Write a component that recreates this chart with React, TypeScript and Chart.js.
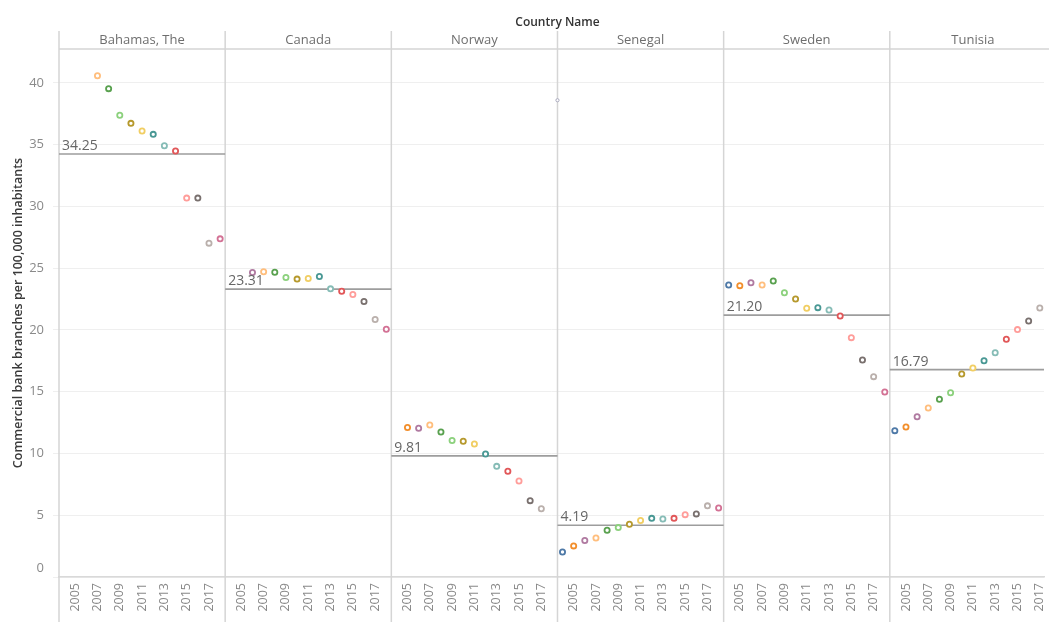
import React, { useEffect, useRef } from "react";
import { Chart, registerables } from "chart.js";

Chart.register(...registerables);

const years = [2004, 2005, 2006, 2007, 2008, 2009, 2010, 2011, 2012, 2013, 2014, 2015, 2016, 2017, 2018];
const countries = ["Bahamas, The", "Canada", "Norway", "Senegal", "Sweden", "Tunisia"];

const bahamasValues = [null, null, null, 40.59, 39.54, 37.38, 36.73, 36.11, 35.84, 34.92, 34.49, 30.68, 30.68, 27.03, 27.38];
const canadaValues = [null, null, 24.66, 24.71, 24.68, 24.25, 24.12, 24.17, 24.33, 23.33, 23.14, 22.87, 22.31, 20.85, 20.06];
const norwayValues = [null, 12.1, 12.04, 12.31, 11.74, 11.05, 10.99, 10.77, 9.96, 8.96, 8.56, 7.77, 6.18, 5.53, null];
const senegalValues = [2.03, 2.52, 2.95, 3.16, 3.78, 4.0, 4.27, 4.57, 4.75, 4.7, 4.75, 5.05, 5.11, 5.76, 5.59];
const swedenValues = [23.64, 23.59, 23.83, 23.64, 23.97, 23.02, 22.51, 21.76, 21.81, 21.62, 21.13, 19.38, 17.57, 16.22, 14.98];
const tunisiaValues = [11.85, 12.15, 12.98, 13.68, 14.39, 14.92, 16.44, 16.92, 17.51, 18.16, 19.25, 20.03, 20.73, 21.78, null];

const averageValues = [34.25, 23.31, 9.81, 4.19, 21.2, 16.79];
const averageLabels = ["34.25", "23.31", "9.81", "4.19", "21.20", "16.79"];

const yearTicks = [2005, 2007, 2009, 2011, 2013, 2015, 2017];
const valueTicks = [0, 5, 10, 15, 20, 25, 30, 35, 40];

const yearColors = [
  "#4E79A7", "#F28E2B", "#B07AA1", "#FFBE7D", "#59A14F", "#8CD17D", "#B6992D", "#F1CE63",
  "#499894", "#86BCB6", "#E15759", "#FF9D9A", "#79706E", "#BAB0AC", "#D37295",
];

// faint stray mark sitting on the Norway / Senegal border (Senegal panel)
const strayYears = [2003.55];
const strayValues = [38.6];

const seriesValues = [bahamasValues, canadaValues, norwayValues, senegalValues, swedenValues, tunisiaValues];

// each facet panel covers the year range [YEAR_START, YEAR_END] on one shared linear axis
const YEAR_START = 2003.55;
const YEAR_END = 2018.45;
const SPAN = YEAR_END - YEAR_START;
const toAxis = (panel: number, year: number) => panel * SPAN + (year - YEAR_START);
// the last (Tunisia) panel runs past the right edge of the view, as in the original
const VISIBLE_PANELS = 5.928;
const FONT = "'Open Sans', 'Noto Sans', sans-serif";

export default function App() {
  const canvasRef = useRef<HTMLCanvasElement | null>(null);

  useEffect(() => {
    const canvas = canvasRef.current;
    if (!canvas) return;

    const datasets: any[] = [];
    seriesValues.forEach((vals, i) => {
      const pts: any[] = [];
      const cols: string[] = [];
      vals.forEach((v, j) => {
        if (v !== null && v !== undefined) {
          pts.push({ x: toAxis(i, years[j]), y: v });
          cols.push(yearColors[j]);
        }
      });
      datasets.push({
        type: "scatter",
        data: pts,
        pointRadius: 2.6,
        pointBorderWidth: 1.8,
        pointBorderColor: cols,
        pointBackgroundColor: "#ffffff",
        pointHoverRadius: 2.6,
        order: 0,
      });
      datasets.push({
        type: "line",
        data: [
          { x: toAxis(i, YEAR_START), y: averageValues[i] },
          { x: toAxis(i, YEAR_END), y: averageValues[i] },
        ],
        borderColor: "#9d9d9d",
        borderWidth: 1.6,
        pointRadius: 0,
        order: 1,
      });
    });
    datasets.push({
      type: "scatter",
      data: strayYears.map((yr, k) => ({ x: toAxis(3, yr), y: strayValues[k] })),
      pointRadius: 1.6,
      pointBorderWidth: 1,
      pointBorderColor: "#a9a9bd",
      pointBackgroundColor: "#ffffff",
      clip: false,
      order: 0,
    });

    const xTickValues: number[] = [];
    const xTickLabels = new Map<number, string>();
    countries.forEach((_, i) => {
      yearTicks.forEach((yt) => {
        const v = toAxis(i, yt);
        xTickValues.push(v);
        xTickLabels.set(Math.round(v * 1000), String(yt));
      });
    });

    const scales: any = {
      y: {
        type: "linear",
        position: "left",
        min: 0,
        max: 42.75,
        afterBuildTicks: (s: any) => {
          s.ticks = valueTicks.map((v) => ({ value: v }));
        },
        afterFit: (s: any) => {
          s.width = 59;
          s.paddingTop = 0;
          s.paddingBottom = 0;
        },
        grid: { color: "#efefef", lineWidth: 1, drawTicks: true, tickLength: 6 },
        border: { display: false },
        ticks: {
          color: "#8a8a8a",
          font: { size: 13, family: FONT },
          padding: 9,
          // the bottom label is nudged up above the axis line, drawn by the plugin
          callback: (v: any) => (Number(v) === 0 ? "" : String(v)),
        },
      },
      x: {
        type: "linear",
        position: "bottom",
        min: 0,
        max: SPAN * VISIBLE_PANELS,
        afterBuildTicks: (s: any) => {
          s.ticks = xTickValues.map((v) => ({ value: v }));
        },
        afterFit: (s: any) => {
          s.height = 45;
          s.paddingLeft = 0;
          s.paddingRight = 0;
        },
        grid: { display: false, drawTicks: false },
        border: { display: true, color: "#d9d9d9", width: 1.5 },
        ticks: {
          autoSkip: false,
          minRotation: 90,
          maxRotation: 90,
          padding: 6,
          color: "#8a8a8a",
          font: { size: 12.5, family: FONT },
          callback: (v: any) => xTickLabels.get(Math.round(Number(v) * 1000)) ?? "",
        },
      },
    };

    const decorPlugin = {
      id: "decor",
      beforeDatasetsDraw(chart: any) {
        const ctx = chart.ctx;
        const area = chart.chartArea;
        const xs = chart.scales.x;
        const ys = chart.scales.y;
        ctx.save();
        ctx.strokeStyle = "#d5d5d5";
        ctx.lineWidth = 1.5;
        const edges: number[] = [];
        for (let k = 0; k <= countries.length; k++) edges.push(xs.getPixelForValue(k * SPAN));
        edges.forEach((x: number) => {
          ctx.beginPath();
          ctx.moveTo(x, 31);
          ctx.lineTo(x, chart.height);
          ctx.stroke();
        });
        ctx.beginPath();
        ctx.moveTo(edges[0], area.top);
        ctx.lineTo(edges[edges.length - 1], area.top);
        ctx.stroke();

        ctx.fillStyle = "#6e6e6e";
        ctx.font = `13px ${FONT}`;
        ctx.textAlign = "center";
        ctx.textBaseline = "middle";
        countries.forEach((name, i) => {
          ctx.fillText(name, (edges[i] + edges[i + 1]) / 2, 40.5);
        });

        // bottom value label, lifted above the axis line
        ctx.fillStyle = "#8a8a8a";
        ctx.textAlign = "right";
        ctx.fillText(String(valueTicks[0]), area.left - 15, ys.getPixelForValue(valueTicks[0]) - 9);

        ctx.textAlign = "center";
        ctx.fillStyle = "#333333";
        ctx.font = `600 12px ${FONT}`;
        ctx.fillText("Country Name", (edges[0] + edges[edges.length - 1]) / 2, 22.5);

        ctx.translate(18.5, (area.top + area.bottom) / 2);
        ctx.rotate(-Math.PI / 2);
        ctx.font = `600 12.5px ${FONT}`;
        ctx.fillStyle = "#3a3a3a";
        ctx.fillText("Commercial bank branches per 100,000 inhabitants", 0, 0);
        ctx.restore();
      },
      afterDatasetsDraw(chart: any) {
        const ctx = chart.ctx;
        const yScale = chart.scales.y;
        const xs = chart.scales.x;
        ctx.save();
        ctx.fillStyle = "#666666";
        ctx.font = `14px ${FONT}`;
        ctx.textAlign = "left";
        ctx.textBaseline = "alphabetic";
        countries.forEach((_, i) => {
          const px = xs.getPixelForValue(i * SPAN);
          const py = yScale.getPixelForValue(averageValues[i]);
          ctx.fillText(averageLabels[i], px + 3, py - 4);
        });
        ctx.restore();
      },
    };

    const chart = new Chart(canvas, {
      type: "scatter",
      data: { datasets },
      options: {
        animation: false,
        responsive: false,
        devicePixelRatio: 1,
        layout: { padding: { top: 49, right: 0, left: 0, bottom: 0 } },
        plugins: {
          legend: { display: false },
          tooltip: { enabled: false },
          title: { display: false },
        },
        events: [],
        scales,
      },
      plugins: [decorPlugin],
    });

    return () => chart.destroy();
  }, []);

  return (
    <div
      style={{
        position: "fixed",
        left: 0,
        top: 0,
        width: 1049,
        height: 622,
        overflow: "hidden",
        background: "#ffffff",
      }}
    >
      <canvas ref={canvasRef} width={1049} height={622} style={{ display: "block", width: 1049, height: 622 }} />
    </div>
  );
}
